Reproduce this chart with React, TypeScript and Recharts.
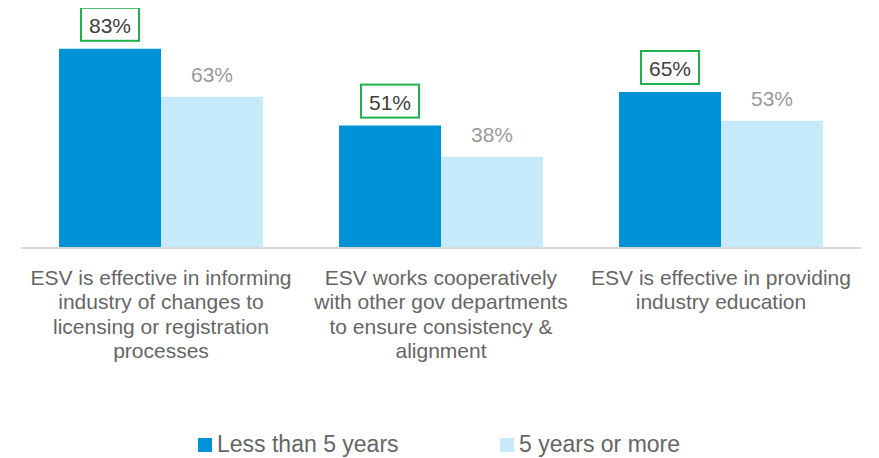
import React from 'react';
import { BarChart, Bar, XAxis, YAxis, LabelList, Legend } from 'recharts';

const categories = [
  'ESV is effective in informing\nindustry of changes to\nlicensing or registration\nprocesses',
  'ESV works cooperatively\nwith other gov departments\nto ensure consistency &\nalignment',
  'ESV is effective in providing\nindustry education',
];
const lessThan5 = [83, 51, 65];
const fiveOrMore = [63, 38, 53];
const seriesNames = ['Less than 5 years', '5 years or more'];

const data = categories.map((name, i) => ({ name, a: lessThan5[i], b: fiveOrMore[i] }));

const DARK = '#0092D6';
const LIGHT = '#C6EAFB';
const FONT = '"Liberation Sans", Arial, sans-serif';

const CategoryTick = (props: any) => {
  const { x, y, payload } = props;
  const lines = String(payload.value).split('\n');
  return (
    <text x={x} y={y} textAnchor="middle" fill="#666666" fontSize={21} fontFamily={FONT}>
      {lines.map((l, i) => (
        <tspan key={i} x={x} y={y + 29 + i * 24.3}>{l}</tspan>
      ))}
    </text>
  );
};

const BoxedLabel = (props: any) => {
  const { x, y, width, value } = props;
  const cx = x + width / 2;
  return (
    <g>
      <rect x={cx - 29} y={y - 41} width={58} height={33} fill="#fff" stroke="#22B04C" strokeWidth={2} />
      <text x={cx} y={y - 16} textAnchor="middle" fill="#404040" fontSize={21} fontFamily={FONT}>{value}%</text>
    </g>
  );
};

const PlainLabel = (props: any) => {
  const { x, y, width, value } = props;
  return (
    <text x={x + width / 2} y={y - 15} textAnchor="middle" fill="#9A9A9A" fontSize={21} fontFamily={FONT}>{value}%</text>
  );
};

const LegendContent = () => (
  <div style={{ position: 'relative', height: 60, fontFamily: FONT, fontSize: 23, color: '#666666' }}>
    {[DARK, LIGHT].map((c, i) => (
      <div key={i} style={{ position: 'absolute', left: i === 0 ? 177 : 479, top: 33, display: 'flex', alignItems: 'center', whiteSpace: 'nowrap' }}>
        <span style={{ display: 'inline-block', width: 14, height: 14, background: c, marginRight: 5 }} />
        <span>{seriesNames[i]}</span>
      </div>
    ))}
  </div>
);

export default function App() {
  return (
    <BarChart
      width={863}
      height={450}
      data={data}
      margin={{ top: 0, right: 10, bottom: 0, left: 13 }}
      barGap={0}
      barCategoryGap={38}
    >
      <XAxis
        dataKey="name"
        height={150}
        interval={0}
        tickLine={false}
        axisLine={{ stroke: '#D9D9D9', strokeWidth: 2 }}
        tick={<CategoryTick />}
      />
      <YAxis hide domain={[0, 100]} />
      <Legend verticalAlign="bottom" height={60} content={<LegendContent />} />
      <Bar dataKey="a" name={seriesNames[0]} fill={DARK} isAnimationActive={false}>
        <LabelList dataKey="a" content={<BoxedLabel />} />
      </Bar>
      <Bar dataKey="b" name={seriesNames[1]} fill={LIGHT} isAnimationActive={false}>
        <LabelList dataKey="b" content={<PlainLabel />} />
      </Bar>
    </BarChart>
  );
}
